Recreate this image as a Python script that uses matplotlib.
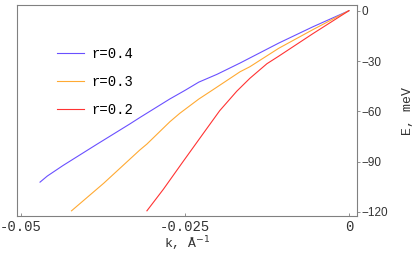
import matplotlib
matplotlib.use("Agg")
import matplotlib.pyplot as plt

# dispersion curves E(k) for three values of r
k_r04 = [-0.0471, -0.0460, -0.0436, -0.0385, -0.0334, -0.0318, -0.0273, -0.0250,
         -0.0229, -0.0201, -0.0166, -0.0107, -0.0055, 0.0]
E_r04 = [-102.2, -98.6, -92.3, -79.8, -67.5, -63.5, -52.6, -47.5,
         -42.6, -37.9, -31.2, -19.3, -9.6, 0.0]

k_r03 = [-0.0423, -0.0374, -0.0319, -0.0308, -0.0273, -0.0258, -0.0229, -0.0208,
         -0.0166, -0.0151, -0.0107, -0.0055, 0.0]
E_r03 = [-119.3, -102.9, -83.1, -79.5, -66.2, -61.2, -52.7, -47.3,
         -36.4, -33.4, -22.4, -11.3, 0.0]

k_r02 = [-0.0308, -0.0283, -0.0253, -0.0221, -0.0197, -0.0171, -0.0151, -0.0125,
         -0.0107, -0.0055, 0.0]
E_r02 = [-119.3, -106.5, -90.0, -72.6, -59.6, -48.0, -40.3, -31.6,
         -27.1, -13.7, 0.0]

series = [("r=0.4", k_r04, E_r04, "#6a50ff"),
          ("r=0.3", k_r03, E_r03, "#ffaa33"),
          ("r=0.2", k_r02, E_r02, "#ff3333")]

xticks = [-0.05, -0.025, 0]
xticklabels = ["-0.05", "-0.025", "0"]
yticks = [0, -30, -60, -90, -120]
yticklabels = ["0", "\u221230", "\u221260", "\u221290", "\u2212120"]

plt.rcParams["mathtext.fontset"] = "dejavusans"
mono = "Liberation Mono"
gray = "#808080"

fig = plt.figure(figsize=(4.15, 2.57), dpi=100)
ax = fig.add_axes([0.041, 0.1595, 0.819, 0.821])

for lab, k, E, c in series:
    ax.plot(k, E, color=c, lw=0.8, label=lab)

ax.set_xlim(-0.05061, 0.00122)
ax.set_ylim(-122.4, 3.4)

for s in ax.spines.values():
    s.set_color(gray)
    s.set_linewidth(0.8)

ax.set_xticks(xticks)
ax.set_xticklabels(xticklabels, family=mono, fontsize=10, color="#333333")
ax.tick_params(axis="x", direction="in", length=2.5, width=0.6, color=gray, pad=3)

ax.yaxis.tick_right()
ax.set_yticks(yticks)
ax.set_yticklabels(yticklabels, family="Liberation Sans", fontsize=8.5, color="#333333")
ax.tick_params(axis="y", direction="out", length=2.5, width=0.6, color=gray, pad=1)
ax.yaxis.set_label_position("right")

ax.set_xlabel("k, Å$^{-1}$", family=mono, fontsize=9.5, color="#333333", labelpad=0)
ax.set_ylabel("E, meV", family=mono, fontsize=9.5, color="#333333", labelpad=10)

leg = ax.legend(loc="upper left", bbox_to_anchor=(0.08, 0.86), frameon=False,
                prop={"family": mono, "size": 10}, handlelength=2.0,
                handletextpad=0.5, labelspacing=1.0)

fig.savefig("out.png", dpi=100)
